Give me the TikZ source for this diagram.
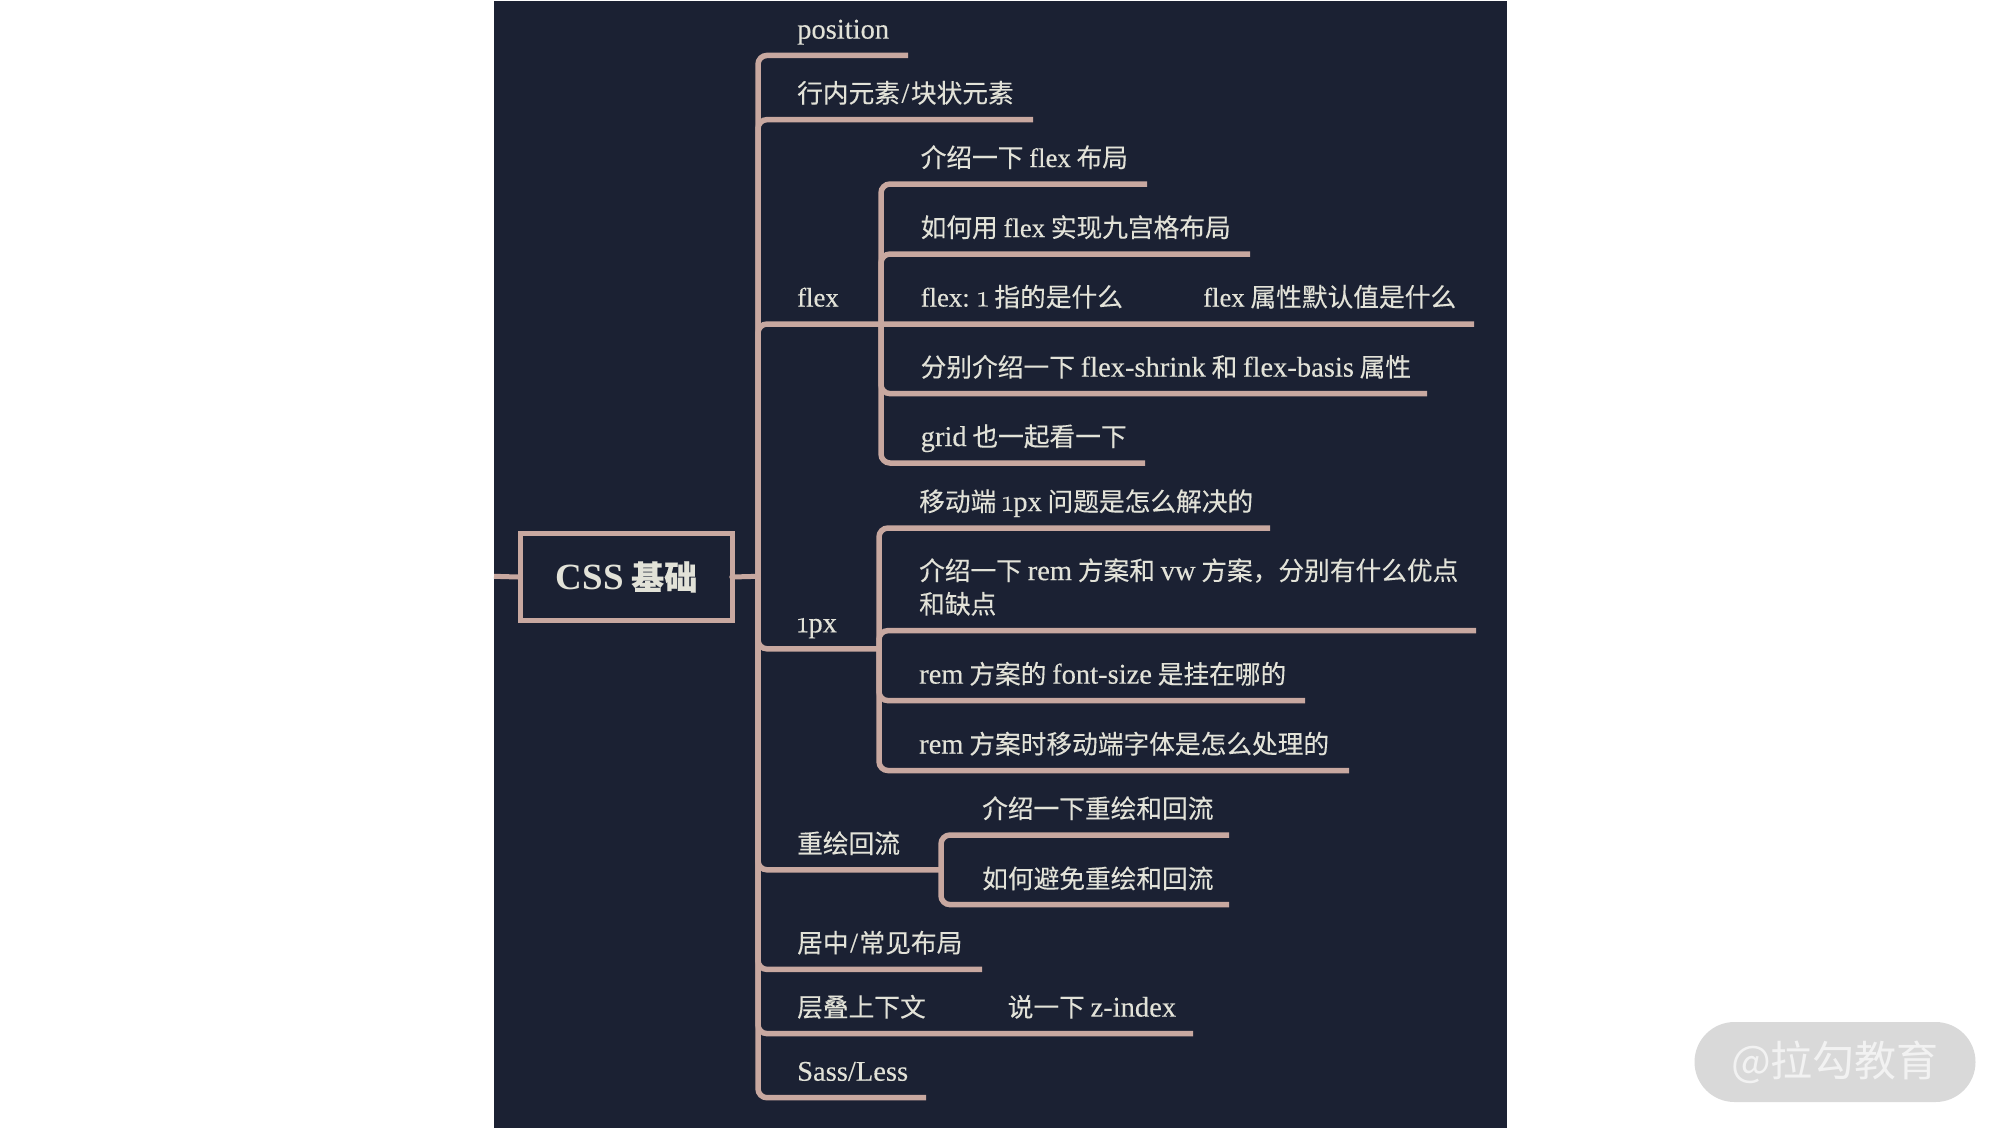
\documentclass[tikz,border=0pt]{standalone}
\usepackage{fontspec}
\setmainfont{Noto Sans CJK SC}[FakeBold=0.2]
\newfontfamily\lat{Liberation Serif}[Scale=1.11,FakeBold=0.25]
\newfontfamily\latf{Liberation Serif}[Scale=1.04,FakeBold=0.25]
\newfontfamily\latb{Liberation Serif Bold}[Scale=1.12]
\newfontfamily\oldn{Latin Modern Roman}[Numbers=OldStyle,Scale=1.2,FakeBold=0.4]
\newfontfamily\wmfont{Noto Sans CJK SC}
\newcommand\La[1]{{\lat #1}}
\newcommand\Fx[1]{{\latf #1}}
\newcommand\Sl{\hspace{1.5pt}{\lat /}\hspace{1.5pt}}
\newcommand\One{{\oldn 1}}
\definecolor{bgc}{RGB}{27,33,51}
\definecolor{linec}{RGB}{200,168,160}
\definecolor{txtc}{RGB}{226,226,216}
\tikzset{
  branch/.style={draw=linec,line width=5.5pt,rounded corners=9pt},
  item/.style={anchor=base west,inner sep=0pt,text=txtc,font=\fontsize{25.7}{33.5}\selectfont},
  rootbox/.style={draw=linec,line width=4.5pt,inner sep=0pt,minimum width=212pt,minimum height=87pt,text=txtc,font=\fontsize{33}{36}\selectfont\bfseries},
  stub/.style={draw=linec,line width=5pt},
}
\begin{document}
\begin{tikzpicture}[x=1pt,y=-1pt]
\useasboundingbox (0,0) rectangle (2002,1128);
\fill[white] (0,0) rectangle (2002,1128);
\fill[bgc] (494,1) rectangle (1507,1128);
% hubs
\coordinate (hub) at (758,576.3);
\coordinate (hubflex) at (881,324);
\coordinate (hubpx) at (879,648.8);
\coordinate (hubre) at (941,869.8);
\coordinate (lstub) at (494,576.3);
% ends
\coordinate (eA) at (908,55.4);
\coordinate (eB) at (1033,119.6);
\coordinate (eC) at (1474,324);
\coordinate (eC1) at (1147,184);
\coordinate (eC2) at (1250,254);
\coordinate (eC4) at (1427,393.6);
\coordinate (eC5) at (1145,463);
\coordinate (eD1) at (1270,528);
\coordinate (eD2) at (1476,630.6);
\coordinate (eD3) at (1305,700.6);
\coordinate (eD4) at (1349,770.5);
\coordinate (eE1) at (1229,835);
\coordinate (eE2) at (1229,904.6);
\coordinate (eF) at (982,969.4);
\coordinate (eG) at (1193,1033.6);
\coordinate (eH) at (926,1097.7);
% branches
\draw[branch] (hub) |- (eA);
\draw[branch] (hub) |- (eB);
\draw[branch] (hub) |- (eC);
\draw[branch] (hub) |- (hubpx);
\draw[branch] (hub) |- (hubre);
\draw[branch] (hub) |- (eF);
\draw[branch] (hub) |- (eG);
\draw[branch] (hub) |- (eH);
\draw[branch] (hubflex) |- (eC1);
\draw[branch] (hubflex) |- (eC2);
\draw[branch] (hubflex) |- (eC4);
\draw[branch] (hubflex) |- (eC5);
\draw[branch] (hubpx) |- (eD1);
\draw[branch] (hubpx) |- (eD2);
\draw[branch] (hubpx) |- (eD3);
\draw[branch] (hubpx) |- (eD4);
\draw[branch] (hubre) |- (eE1);
\draw[branch] (hubre) |- (eE2);
% root
\node[rootbox] (root) at (626.5,577) {\raisebox{-1pt}{{\latb CSS} 基础}};
\draw[stub] (lstub) -- (root.west);
\draw[stub,line cap=round] ([xshift=-3pt]root.east) -- (hub);
% texts
\node[item] (tA) at (797,38.6) {\La{position}};
\node[item] (tB) at (797,102.6) {行内元素\Sl 块状元素};
\node[item] (tC) at (797,306.5) {\Fx{flex}};
\node[item] (tC1) at (920.5,167) {介绍一下 \Fx{flex} 布局};
\node[item] (tC2) at (920.5,237) {如何用 \Fx{flex} 实现九宫格布局};
\node[item] (tC3) at (920.5,306.5) {\Fx{flex:} \One{} 指的是什么};
\node[item] (tC3b) at (1203,306.5) {\Fx{flex} 属性默认值是什么};
\node[item] (tC4) at (920.5,376.6) {分别介绍一下 \La{flex-shrink} 和 \La{flex-basis} 属性};
\node[item] (tC5) at (920.5,446) {\La{grid} 也一起看一下};
\node[item] (tD) at (797,632.3) {\One\La{px}};
\node[item] (tD1) at (919,511) {移动端 \One\La{px} 问题是怎么解决的};
\node[item,align=left] (tD2) at (919,613.6) {介绍一下 \La{rem} 方案和 \La{vw} 方案，分别有什么优点\\和缺点};
\node[item] (tD3) at (919,683.6) {\La{rem} 方案的 \La{font-size} 是挂在哪的};
\node[item] (tD4) at (919,753.5) {\La{rem} 方案时移动端字体是怎么处理的};
\node[item] (tE) at (797,853) {重绘回流};
\node[item] (tE1) at (982,818) {介绍一下重绘和回流};
\node[item] (tE2) at (982,888.2) {如何避免重绘和回流};
\node[item] (tF) at (797,952.4) {居中\Sl 常见布局};
\node[item] (tG) at (797,1016.6) {层叠上下文};
\node[item] (tG1) at (1007.5,1016.6) {说一下 \La{z-index}};
\node[item] (tH) at (797,1080.7) {\La{Sass/Less}};
% watermark
\node[fill=black!15,rounded corners=40pt,minimum width=281pt,minimum height=80pt,inner sep=0pt,text=black!5,font=\fontsize{42}{46}\wmfont] (wm) at (1835,1062) {@拉勾教育};
\end{tikzpicture}
\end{document}
